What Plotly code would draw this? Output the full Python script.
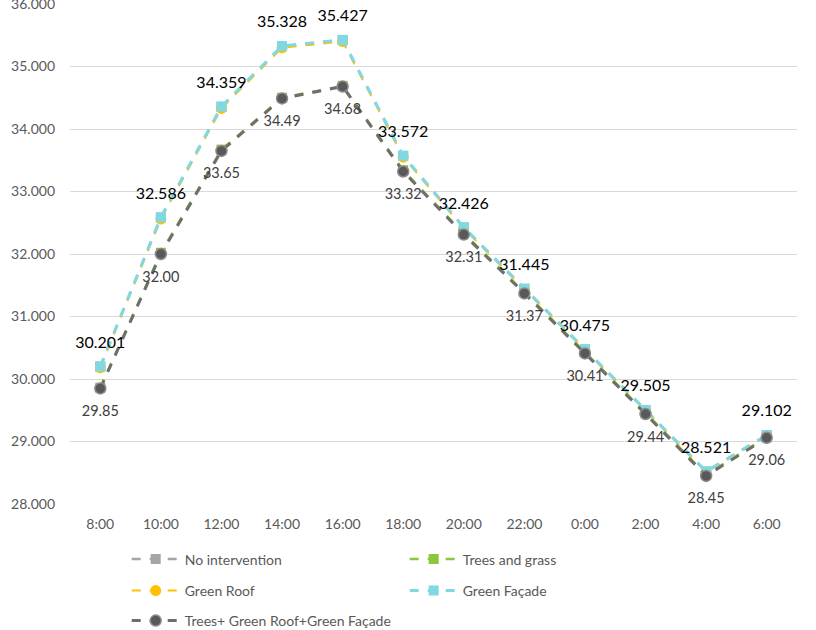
import plotly.graph_objects as go

hours = ["8:00", "10:00", "12:00", "14:00", "16:00", "18:00", "20:00", "22:00", "0:00", "2:00", "4:00", "6:00"]

no_intervention = [30.199, 32.584, 34.356, 35.325, 35.424, 33.570, 32.424, 31.443, 30.473, 29.503, 28.519, 29.100]
trees_grass = [29.86, 32.02, 33.67, 34.50, 34.69, 33.34, 32.33, 31.39, 30.43, 29.46, 28.47, 29.07]
green_roof = [30.18, 32.56, 34.33, 35.30, 35.40, 33.55, 32.41, 31.43, 30.46, 29.49, 28.51, 29.09]
green_facade = [30.201, 32.586, 34.359, 35.328, 35.427, 33.572, 32.426, 31.445, 30.475, 29.505, 28.521, 29.102]
combined = [29.85, 32.00, 33.65, 34.49, 34.68, 33.32, 32.31, 31.37, 30.41, 29.44, 28.45, 29.06]

facade_labels = ["30.201", "32.586", "34.359", "35.328", "35.427", "33.572", "32.426", "31.445", "30.475", "29.505", "28.521", "29.102"]
combined_labels = ["29.85", "32.00", "33.65", "34.49", "34.68", "33.32", "32.31", "31.37", "30.41", "29.44", "28.45", "29.06"]

y_ticks = [28, 29, 30, 31, 32, 33, 34, 35, 36]
y_tick_text = ["28.000", "29.000", "30.000", "31.000", "32.000", "33.000", "34.000", "35.000", "36.000"]

FONT = "Lato"

fig = go.Figure()

fig.add_trace(go.Scatter(
    x=hours, y=no_intervention, name="No intervention", mode="lines+markers",
    line=dict(color="#A5A5A5", width=2.5, dash="dash"),
    marker=dict(symbol="square", size=10, color="#A5A5A5"),
    legend="legend",
))
fig.add_trace(go.Scatter(
    x=hours, y=trees_grass, name="Trees and grass", mode="lines+markers",
    line=dict(color="#8CC63F", width=2.5, dash="dash"),
    marker=dict(symbol="square", size=10, color="#8CC63F"),
    legend="legend",
))
fig.add_trace(go.Scatter(
    x=hours, y=green_roof, name="Green Roof", mode="lines+markers",
    line=dict(color="#FFC000", width=2, dash="dash"),
    marker=dict(symbol="circle", size=11, color="#FFC000"),
    legend="legend2",
))
fig.add_trace(go.Scatter(
    x=hours, y=green_facade, name="Green Façade", mode="lines+markers",
    line=dict(color="#80D8E2", width=3, dash="dash"),
    marker=dict(symbol="square", size=10, color="#80D8E2"),
    legend="legend2",
))
fig.add_trace(go.Scatter(
    x=hours, y=combined, name="Trees+ Green Roof+Green Façade", mode="lines+markers",
    line=dict(color="#6E6E6E", width=3, dash="dash"),
    marker=dict(symbol="circle", size=11, color="#595959", line=dict(color="#8C8C8C", width=1.5)),
    legend="legend3",
))

# data labels (invisible markers set the label distance from the points)
fig.add_trace(go.Scatter(
    x=hours, y=green_facade, mode="markers+text", showlegend=False, hoverinfo="skip",
    marker=dict(size=22, color="rgba(0,0,0,0)"), cliponaxis=False,
    text=facade_labels, textposition="top center",
    textfont=dict(family=FONT, size=16, color="#000000"),
))
fig.add_trace(go.Scatter(
    x=hours, y=combined, mode="markers+text", showlegend=False, hoverinfo="skip",
    marker=dict(size=25, color="rgba(0,0,0,0)"), cliponaxis=False,
    text=combined_labels, textposition="bottom center",
    textfont=dict(family=FONT, size=14.5, color="#404040"),
))

legend_common = dict(
    orientation="h", xanchor="left", yanchor="middle",
    font=dict(family=FONT, size=14, color="#595959"),
    bgcolor="rgba(0,0,0,0)", itemwidth=48,
    entrywidth=215, entrywidthmode="pixels",
    itemclick=False, itemdoubleclick=False,
)

fig.update_layout(
    width=816, height=630,
    margin=dict(l=70, r=19, t=4, b=126, autoexpand=False),
    paper_bgcolor="white", plot_bgcolor="white",
    font=dict(family=FONT, size=14, color="#595959"),
    showlegend=True,
    legend=dict(x=0.078, y=-0.111, **legend_common),
    legend2=dict(x=0.078, y=-0.174, **legend_common),
    legend3=dict(x=0.078, y=-0.234, **legend_common),
    xaxis=dict(
        type="category", range=[-0.5, 11.5], showgrid=False, zeroline=False,
        showline=False, ticks="", ticklabelstandoff=10, automargin=False,
        tickfont=dict(family=FONT, size=14, color="#595959"),
        fixedrange=True,
    ),
    yaxis=dict(
        range=[28, 36], tickvals=y_ticks, ticktext=y_tick_text,
        showgrid=True, gridcolor="#D9D9D9", gridwidth=1, zeroline=False,
        showline=False, ticks="", ticklabelstandoff=14, automargin=False,
        ticklabeloverflow="allow",
        tickfont=dict(family=FONT, size=14, color="#595959"), fixedrange=True,
    ),
)

fig.write_html("out.html", config={"displayModeBar": False},
               post_script="document.body.style.margin='0';")
